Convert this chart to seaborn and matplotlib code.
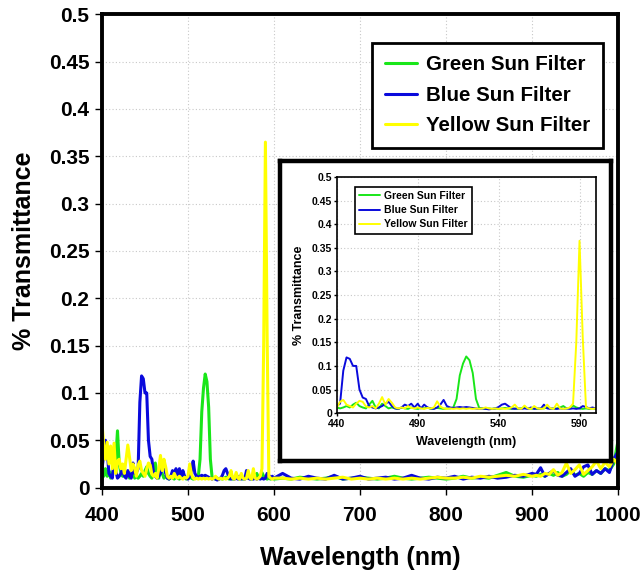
import numpy as np
import pandas as pd
import matplotlib
matplotlib.use("Agg")
import matplotlib.pyplot as plt
import seaborn as sns

# wavelength sampling: 2 nm up to 600, then 10 nm, then 5 nm
wavelength = np.r_[400:601:2, 610:901:10, 905:1001:5]

green = [
    # 400-418
    0.015, 0.012, 0.020, 0.012, 0.018, 0.010, 0.015, 0.020, 0.030, 0.060,
    # 420-438
    0.025, 0.015, 0.012, 0.020, 0.012, 0.015, 0.010, 0.012, 0.018, 0.010,
    # 440-458
    0.012, 0.010, 0.012, 0.015, 0.012, 0.018, 0.022, 0.015, 0.012, 0.010,
    # 460-478
    0.018, 0.026, 0.012, 0.010, 0.020, 0.015, 0.010, 0.012, 0.010, 0.009,
    # 480-498
    0.012, 0.010, 0.009, 0.012, 0.010, 0.009, 0.011, 0.010, 0.012, 0.009,
    # 500-518
    0.010, 0.011, 0.010, 0.009, 0.010, 0.010, 0.012, 0.030, 0.080, 0.105,
    # 520-538
    0.120, 0.112, 0.085, 0.030, 0.011, 0.010, 0.009, 0.010, 0.009, 0.010,
    # 540-558
    0.009, 0.010, 0.011, 0.010, 0.009, 0.010, 0.009, 0.010, 0.012, 0.010,
    # 560-578
    0.009, 0.010, 0.009, 0.010, 0.010, 0.012, 0.010, 0.009, 0.010, 0.012,
    # 580-598
    0.015, 0.010, 0.011, 0.016, 0.012, 0.010, 0.009, 0.010, 0.009, 0.010,
    # 600
    0.009,
    # 610-700
    0.010, 0.009, 0.011, 0.010, 0.009, 0.010, 0.012, 0.009, 0.010, 0.011,
    # 710-800
    0.010, 0.009, 0.010, 0.012, 0.010, 0.009, 0.010, 0.011, 0.010, 0.009,
    # 810-900
    0.010, 0.012, 0.010, 0.011, 0.010, 0.013, 0.016, 0.012, 0.011, 0.013,
    # 905-950
    0.012, 0.014, 0.012, 0.015, 0.013, 0.016, 0.012, 0.014, 0.018, 0.013,
    # 955-1000
    0.015, 0.012, 0.016, 0.014, 0.018, 0.015, 0.020, 0.018, 0.025, 0.049,
]

blue = [
    0.020, 0.035, 0.050, 0.040, 0.015, 0.012, 0.010, 0.028, 0.018, 0.010,
    0.012, 0.015, 0.020, 0.012, 0.010, 0.018, 0.012, 0.010, 0.026, 0.015,
    0.016, 0.020, 0.090, 0.118, 0.115, 0.100, 0.100, 0.050, 0.033, 0.030,
    0.015, 0.012, 0.010, 0.012, 0.015, 0.020, 0.024, 0.015, 0.010, 0.009,
    0.012, 0.018, 0.015, 0.020, 0.012, 0.020, 0.010, 0.018, 0.012, 0.010,
    0.009, 0.012, 0.018, 0.028, 0.015, 0.012, 0.011, 0.012, 0.013, 0.012,
    0.013, 0.012, 0.011, 0.010, 0.009, 0.010, 0.009, 0.008, 0.009, 0.010,
    0.013, 0.018, 0.020, 0.015, 0.010, 0.009, 0.010, 0.009, 0.010, 0.009,
    0.012, 0.009, 0.010, 0.009, 0.018, 0.010, 0.009, 0.010, 0.009, 0.010,
    0.009, 0.010, 0.009, 0.010, 0.009, 0.010, 0.015, 0.013, 0.010, 0.012,
    0.010,
    0.015, 0.010, 0.009, 0.012, 0.010, 0.009, 0.013, 0.009, 0.010, 0.012,
    0.009, 0.010, 0.011, 0.009, 0.010, 0.013, 0.010, 0.009, 0.011, 0.010,
    0.012, 0.009, 0.011, 0.010, 0.012, 0.010, 0.011, 0.013, 0.012, 0.015,
    0.014, 0.021, 0.012, 0.015, 0.018, 0.013, 0.012, 0.016, 0.020, 0.012,
    0.015, 0.022, 0.024, 0.014, 0.018, 0.015, 0.020, 0.016, 0.030, 0.038,
]

yellow = [
    0.068, 0.045, 0.030, 0.048, 0.025, 0.044, 0.020, 0.047, 0.015, 0.028,
    0.030, 0.020, 0.025, 0.015, 0.030, 0.045, 0.032, 0.018, 0.025, 0.020,
    0.012, 0.024, 0.028, 0.018, 0.015, 0.012, 0.020, 0.026, 0.024, 0.014,
    0.012, 0.015, 0.010, 0.020, 0.034, 0.018, 0.030, 0.022, 0.012, 0.010,
    0.012, 0.010, 0.015, 0.011, 0.010, 0.012, 0.010, 0.009, 0.011, 0.010,
    0.012, 0.025, 0.014, 0.010, 0.009, 0.010, 0.009, 0.010, 0.009, 0.010,
    0.009, 0.010, 0.009, 0.010, 0.009, 0.010, 0.012, 0.010, 0.009, 0.010,
    0.009, 0.010, 0.009, 0.010, 0.012, 0.018, 0.010, 0.009, 0.016, 0.010,
    0.009, 0.015, 0.010, 0.009, 0.010, 0.018, 0.010, 0.009, 0.020, 0.010,
    0.009, 0.010, 0.012, 0.020, 0.150, 0.365, 0.160, 0.012, 0.010, 0.009,
    0.010,
    0.010, 0.009, 0.010, 0.009, 0.010, 0.009, 0.010, 0.011, 0.009, 0.010,
    0.009, 0.010, 0.009, 0.010, 0.009, 0.010, 0.009, 0.010, 0.011, 0.010,
    0.010, 0.011, 0.010, 0.012, 0.011, 0.012, 0.013, 0.012, 0.014, 0.012,
    0.013, 0.012, 0.015, 0.014, 0.019, 0.013, 0.016, 0.026, 0.015, 0.019,
    0.024, 0.014, 0.018, 0.022, 0.028, 0.020, 0.027, 0.022, 0.030, 0.025,
]

filters = ["Green Sun Filter", "Blue Sun Filter", "Yellow Sun Filter"]
colors = ["#19E619", "#0A0ADC", "#FFFF00"]

df = pd.DataFrame({
    "wavelength": np.tile(wavelength, 3),
    "transmittance": np.concatenate([green, blue, yellow]),
    "filter": np.repeat(filters, len(wavelength)),
})

sns.set_style("white")
plt.rcParams["font.family"] = ["Liberation Sans", "DejaVu Sans"]
plt.rcParams["font.weight"] = "bold"
for key in ["text.color", "axes.labelcolor", "xtick.color", "ytick.color"]:
    plt.rcParams[key] = "black"

fig = plt.figure(figsize=(6.44, 5.73), dpi=100)
palette = dict(zip(filters, colors))


def style_axes(ax, xlim, xticks, fs_tick, frame_lw, tick_len, xpad, ypad):
    ax.set_xlim(*xlim)
    ax.set_ylim(0, 0.5)
    ax.set_xticks(xticks)
    yt = np.arange(0, 0.501, 0.05)
    ax.set_yticks(yt)
    ax.set_yticklabels(["0"] + [f"{v:g}" for v in yt[1:]])
    ax.grid(True, linestyle=(0, (1, 2)), color="#c8c8c8", linewidth=0.8)
    for s in ax.spines.values():
        s.set_visible(True)
        s.set_color("black")
        s.set_linewidth(frame_lw)
    ax.tick_params(axis="both", direction="out", length=tick_len, width=1,
                   color="black", labelsize=fs_tick, bottom=True, left=True)
    ax.tick_params(axis="x", pad=xpad)
    ax.tick_params(axis="y", pad=ypad)
    for lab in ax.get_xticklabels() + ax.get_yticklabels():
        lab.set_fontweight("bold")


# main chart
ax = fig.add_axes([0.1584, 0.149, 0.8012, 0.826])
sns.lineplot(data=df, x="wavelength", y="transmittance", hue="filter",
             hue_order=filters, palette=palette, estimator=None,
             linewidth=2.2, ax=ax)
style_axes(ax, (400, 1000), list(range(400, 1001, 100)), 15, 2.8, 5, 8, 4)
ax.set_xlabel("Wavelength (nm)", fontsize=18, fontweight="bold", labelpad=15)
ax.set_ylabel("% Transmittance", fontsize=18, fontweight="bold", labelpad=9)
h, l = ax.get_legend_handles_labels()
leg = ax.legend(h, l, loc="upper left", bbox_to_anchor=(0.523, 0.940),
                frameon=True, fancybox=False, edgecolor="black", framealpha=1,
                prop={"size": 14.8, "weight": "bold"}, handlelength=1.6,
                handletextpad=0.4, labelspacing=0.55, borderpad=0.62,
                borderaxespad=0)
leg.get_frame().set_linewidth(2)
for line in leg.get_lines():
    line.set_linewidth(2.2)

# white box holding the zoomed view
box = fig.add_axes([0.435, 0.1955, 0.514, 0.523])
box.set_xticks([])
box.set_yticks([])
box.set_facecolor("white")
for s in box.spines.values():
    s.set_linewidth(3.2)
    s.set_color("black")

ins = fig.add_axes([0.523, 0.279, 0.402, 0.412])
sns.lineplot(data=df[df["wavelength"] <= 610], x="wavelength", y="transmittance",
             hue="filter", hue_order=filters, palette=palette, estimator=None,
             linewidth=1.4, ax=ins)
style_axes(ins, (440, 600), [440, 490, 540, 590], 7.5, 1.2, 2, 2.5, 1.5)
ins.set_xlabel("Wavelength (nm)", fontsize=9, fontweight="bold", labelpad=5)
ins.set_ylabel("% Transmittance", fontsize=9, fontweight="bold", labelpad=5)
h, l = ins.get_legend_handles_labels()
leg2 = ins.legend(h, l, loc="upper left", bbox_to_anchor=(0.07, 0.958),
                  frameon=True, fancybox=False, edgecolor="black", framealpha=1,
                  prop={"size": 7.5, "weight": "bold"}, handlelength=2.0,
                  handletextpad=0.4, labelspacing=0.4, borderpad=0.4,
                  borderaxespad=0)
leg2.get_frame().set_linewidth(1.2)
for line in leg2.get_lines():
    line.set_linewidth(1.4)

fig.savefig("out.png", dpi=100)
